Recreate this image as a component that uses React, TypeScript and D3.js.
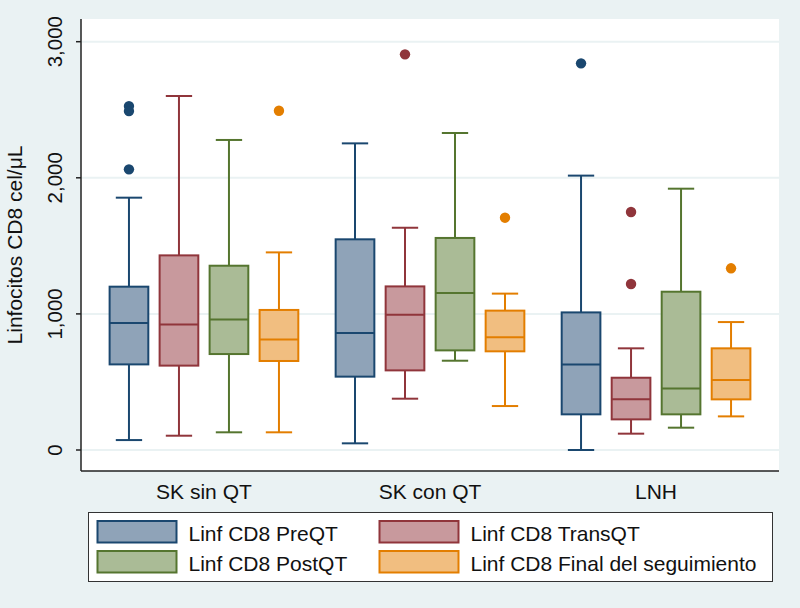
import React from "react";
import * as d3 from "d3";

const groups = ["SK sin QT", "SK con QT", "LNH"];
const seriesNames = [
  "Linf CD8 PreQT",
  "Linf CD8 TransQT",
  "Linf CD8 PostQT",
  "Linf CD8 Final del seguimiento",
];
const strokeColors = ["#1a476f", "#90353b", "#55752f", "#e37e00"];
const fillColors = ["#8fa3b8", "#c8999d", "#aabb96", "#f1be80"];
const yTicks = [0, 1000, 2000, 3000];

// [lower whisker, q1, median, q3, upper whisker] per group
const preQT = [
  [73, 629, 933, 1200, 1854],
  [49, 539, 860, 1548, 2253],
  [0, 262, 629, 1011, 2016],
];
const transQT = [
  [105, 620, 923, 1430, 2601],
  [377, 585, 994, 1202, 1633],
  [120, 225, 372, 531, 747],
];
const postQT = [
  [130, 705, 958, 1354, 2278],
  [656, 732, 1153, 1558, 2329],
  [164, 262, 451, 1163, 1920],
];
const finalQT = [
  [130, 654, 811, 1029, 1452],
  [323, 725, 828, 1024, 1149],
  [247, 372, 514, 747, 940],
];
const preQTOut = [[2527, 2490, 2062], [], [2841]];
const transQTOut = [[], [2907], [1749, 1220]];
const postQTOut = [[], [], []];
const finalQTOut = [[2493], [1707], [1335]];

const stats = [preQT, transQT, postQT, finalQT];
const outliers = [preQTOut, transQTOut, postQTOut, finalQTOut];

const W = 800;
const H = 608;
const plotLeft = 81;
const plotRight = 779;
const plotTop = 19;
const plotBottom = 471;
const FONT = "'Liberation Sans', Arial, Helvetica, sans-serif";

export default function App() {
  const y = d3.scaleLinear().domain([0, 3000]).range([450, 41.7]);
  const xg = d3.scalePoint<string>().domain(groups).range([plotLeft, plotRight]).padding(0.544);
  const xs = d3
    .scaleBand<string>()
    .domain(seriesNames)
    .range([-94.35, 94.35])
    .paddingInner(0.226)
    .paddingOuter(0);
  const bw = xs.bandwidth();
  const capW = bw * 0.68;
  const fmt = d3.format(",");

  return (
    <svg
      width={W}
      height={H}
      style={{ position: "absolute", left: 0, top: 0, fontFamily: FONT }}
    >
      <rect x={0} y={0} width={W} height={H} fill="#eaf2f3" />
      <rect
        x={plotLeft}
        y={plotTop}
        width={plotRight - plotLeft}
        height={plotBottom - plotTop}
        fill="#ffffff"
      />
      {yTicks.map((t) => (
        <line
          key={"g" + t}
          x1={plotLeft}
          x2={plotRight}
          y1={y(t)}
          y2={y(t)}
          stroke="#eaf2f3"
          strokeWidth={2}
        />
      ))}
      {/* axes */}
      <line x1={plotLeft} x2={plotLeft} y1={plotTop} y2={plotBottom} stroke="#222" strokeWidth={1.5} />
      <line x1={plotLeft} x2={plotRight} y1={plotBottom} y2={plotBottom} stroke="#222" strokeWidth={1.5} />
      {yTicks.map((t) => (
        <g key={"t" + t}>
          <line x1={plotLeft - 5} x2={plotLeft} y1={y(t)} y2={y(t)} stroke="#222" strokeWidth={1.5} />
          <text
            transform={`translate(62,${y(t)}) rotate(-90)`}
            textAnchor="middle"
            fontSize={20.5}
            fill="#111"
          >
            {fmt(t)}
          </text>
        </g>
      ))}
      <text
        transform={`translate(21.5,${(plotTop + plotBottom) / 2}) rotate(-90)`}
        textAnchor="middle"
        fontSize={21}
        fill="#111"
      >
        Linfocitos CD8 cel/μL
      </text>
      {groups.map((g) => (
        <text key={"xl" + g} x={xg(g)} y={499} textAnchor="middle" fontSize={21} fill="#111">
          {g}
        </text>
      ))}
      {/* boxes */}
      {groups.map((g, gi) =>
        seriesNames.map((s, si) => {
          const [lo, q1, med, q3, hi] = stats[si][gi];
          const cx = (xg(g) as number) + (xs(s) as number) + bw / 2;
          const c = strokeColors[si];
          return (
            <g key={g + s}>
              <line x1={cx} x2={cx} y1={y(q3)} y2={y(hi)} stroke={c} strokeWidth={2} />
              <line x1={cx} x2={cx} y1={y(q1)} y2={y(lo)} stroke={c} strokeWidth={2} />
              <line x1={cx - capW / 2} x2={cx + capW / 2} y1={y(hi)} y2={y(hi)} stroke={c} strokeWidth={2} />
              <line x1={cx - capW / 2} x2={cx + capW / 2} y1={y(lo)} y2={y(lo)} stroke={c} strokeWidth={2} />
              <rect
                x={cx - bw / 2}
                y={y(q3)}
                width={bw}
                height={y(q1) - y(q3)}
                fill={fillColors[si]}
                stroke={c}
                strokeWidth={2}
              />
              <line x1={cx - bw / 2} x2={cx + bw / 2} y1={y(med)} y2={y(med)} stroke={c} strokeWidth={2} />
              {outliers[si][gi].map((o, oi) => (
                <circle key={oi} cx={cx} cy={y(o)} r={5.2} fill={c} />
              ))}
            </g>
          );
        })
      )}
      {/* legend */}
      <rect x={88.5} y={512.5} width={684} height={69} fill="#ffffff" stroke="#333" strokeWidth={1} />
      {seriesNames.map((s, si) => {
        const col = si % 2;
        const row = Math.floor(si / 2);
        const kx = col === 0 ? 97.5 : 379.5;
        const ky = 521 + row * 30;
        return (
          <g key={"lg" + s}>
            <rect
              x={kx}
              y={ky}
              width={79}
              height={21.5}
              fill={fillColors[si]}
              stroke={strokeColors[si]}
              strokeWidth={2}
            />
            <text x={kx + 91} y={ky + 20} fontSize={21} fill="#111">
              {s}
            </text>
          </g>
        );
      })}
    </svg>
  );
}
